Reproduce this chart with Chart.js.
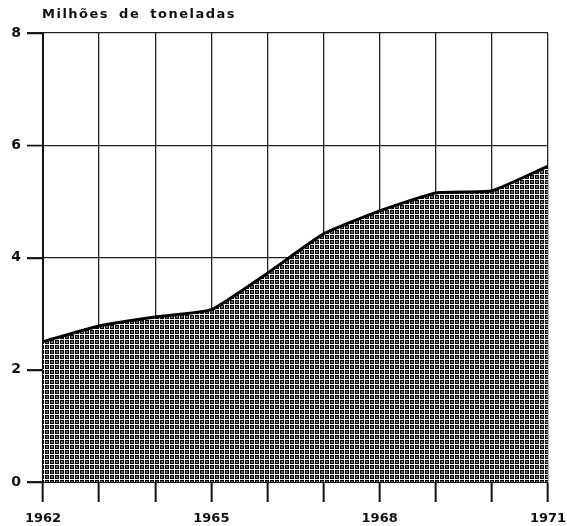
<!DOCTYPE html>
<html>
<head>
<meta charset="utf-8">
<script src="https://cdn.jsdelivr.net/npm/chart.js@4"></script>
<style>
    html, body { margin: 0; padding: 0; background: #fff; }
    #wrap { width: 567px; height: 526px; }
</style>
</head>
<body>
<div id="wrap"><canvas id="tonChart" width="567" height="526"></canvas></div>
<script>
const years = [1962, 1963, 1964, 1965, 1966, 1967, 1968, 1969, 1970, 1971];
const tons = [2.5, 2.78, 2.94, 3.07, 3.72, 4.42, 4.83, 5.15, 5.19, 5.63];
const labeledYears = [1962, 1965, 1968, 1971];
const yTicks = [0, 2, 4, 6, 8];
const title = 'Milhões de toneladas';

// padrão de quadradinhos do preenchimento
function makePattern() {
    const c = document.createElement('canvas');
    c.width = 5; c.height = 5;
    const g = c.getContext('2d');
    g.fillStyle = '#fff';
    g.fillRect(0, 0, 5, 5);
    g.fillStyle = '#000';
    g.fillRect(0, 0, 4, 4);
    g.fillStyle = '#6a6a6a';
    g.fillRect(1, 1, 2, 2);
    return g.createPattern(c, 'repeat');
}

const titlePlugin = {
    id: 'topTitle',
    afterDraw(chart) {
        const ctx = chart.ctx;
        ctx.save();
        ctx.fillStyle = '#111';
        ctx.font = 'bold 13px "DejaVu Sans"';
        ctx.letterSpacing = '1.5px';
        ctx.wordSpacing = '4px';
        ctx.textBaseline = 'middle';
        ctx.fillText(title, 42, 15);
        ctx.restore();
    }
};

// marcas do eixo y à esquerda
const yTickMarks = {
    id: 'yTickMarks',
    afterDraw(chart) {
        const ctx = chart.ctx;
        const y = chart.scales.y;
        const left = chart.chartArea.left;
        ctx.save();
        ctx.strokeStyle = '#111';
        ctx.lineWidth = 1.5;
        yTicks.forEach(v => {
            const py = Math.round(y.getPixelForValue(v)) + 0.5;
            ctx.beginPath();
            ctx.moveTo(left - 16, py);
            ctx.lineTo(left, py);
            ctx.stroke();
        });
        ctx.restore();
    }
};

const ctx = document.getElementById('tonChart').getContext('2d');
new Chart(ctx, {
    type: 'line',
    data: {
        datasets: [{
            data: years.map((y, i) => ({ x: y, y: tons[i] })),
            borderColor: '#000',
            borderWidth: 3,
            backgroundColor: makePattern(),
            fill: 'origin',
            tension: 0.15,
            pointRadius: 0
        }]
    },
    plugins: [titlePlugin, yTickMarks],
    options: {
        responsive: false,
        animation: false,
        layout: { padding: { top: 33, right: 19, left: 0, bottom: 0 } },
        plugins: { legend: { display: false }, tooltip: { enabled: false } },
        scales: {
            x: {
                type: 'linear',
                min: 1962,
                max: 1971,
                afterFit: s => { s.height = 44; s.paddingLeft = 0; s.paddingRight = 0; },
                afterBuildTicks: s => { s.ticks = years.map(v => ({ value: v })); },
                ticks: {
                    autoSkip: false,
                    maxRotation: 0,
                    padding: 9,
                    color: '#111',
                    font: { family: 'DejaVu Sans', size: 13, weight: 'bold' },
                    callback: v => labeledYears.includes(v) ? String(v) : ''
                },
                grid: { color: '#222', lineWidth: 1.3, tickLength: 20, tickColor: '#111', tickWidth: 2 },
                border: { color: '#111', width: 2 }
            },
            y: {
                min: 0,
                max: 8,
                afterFit: s => { s.width = 43; },
                afterBuildTicks: s => { s.ticks = yTicks.map(v => ({ value: v })); },
                ticks: {
                    padding: 6,
                    color: '#111',
                    font: { family: 'DejaVu Sans', size: 14, weight: 'bold' }
                },
                grid: { color: '#222', lineWidth: 1.3, tickLength: 16 },
                border: { color: '#111', width: 2 }
            }
        }
    }
});
</script>
</body>
</html>
